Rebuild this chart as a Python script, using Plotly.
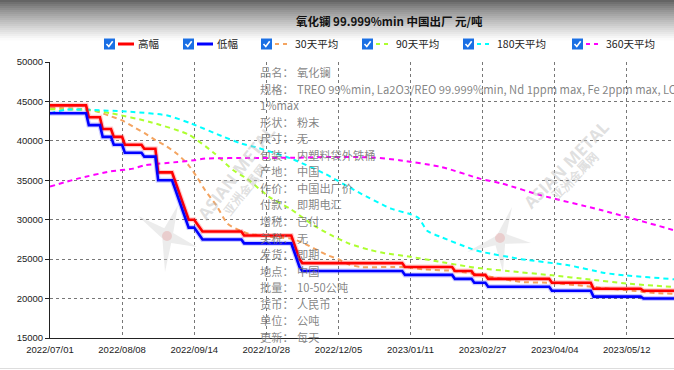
import plotly.graph_objects as go

# ---------------- data ----------------
N_DAYS = 229
tick_idx = [0, 26, 52, 78, 104, 130, 156, 182, 208]
tick_labels = ["2022/07/01", "2022/08/08", "2022/09/14", "2022/10/28", "2022/12/05",
               "2023/01/11", "2023/02/27", "2023/04/04", "2023/05/12"]
y_ticks = [15000, 20000, 25000, 30000, 35000, 40000, 45000, 50000]

# step data: trading-day index where a new price starts, and the price
hi_start = [0, 14, 19, 23, 27, 34, 39, 45, 46, 47, 48, 49, 50, 53, 54, 55, 70, 88, 89, 90, 91,
            128, 146, 153, 158, 181, 196, 214]
hi_val = [44500, 43000, 41500, 40500, 39500, 39000, 36000, 35000, 34000, 33000, 32000, 31000, 30000,
          29500, 29000, 28500, 28000, 27000, 26000, 25000, 24500,
          24000, 23500, 23000, 22500, 22000, 21250, 21000]
lo_start = [0, 14, 19, 23, 27, 34, 39, 45, 46, 47, 48, 49, 50, 53, 54, 55, 70, 88, 89, 90, 91,
            128, 146, 153, 158, 181, 196, 214]
lo_val = [43500, 42000, 40500, 39500, 38500, 38000, 35000, 34000, 33000, 32000, 31000, 30000, 29000,
          28500, 28000, 27500, 27000, 26000, 25000, 24000, 23500,
          23000, 22500, 22000, 21500, 21000, 20250, 20000]

ma30_idx = [0, 13, 18, 22, 26, 30, 34, 38, 42, 46, 50, 53, 56, 60, 64, 68, 72, 76, 80, 87, 91, 95,
            100, 104, 108, 112, 128, 135, 146, 150, 155, 160, 170, 180, 190, 200, 210, 218, 228]
ma30_val = [44200, 44000, 43600, 43100, 42600, 41800, 41000, 40100, 39300, 38300, 36900, 35400,
            33700, 31800, 29500, 28700, 28200, 28000, 27800, 27600, 27100, 26400,
            25500, 25000, 24300, 24000, 24000, 23700, 23500, 23300, 23000, 22700, 22100, 22000,
            21700, 21300, 21000, 20700, 20600]

ma90_idx = [0, 14, 22, 36, 50, 59, 66, 71, 79, 87, 95, 101, 108, 115, 120, 130, 140, 150, 156,
            165, 181, 195, 208, 228]
ma90_val = [44000, 43900, 43500, 42400, 40800, 38500, 36300, 35200, 32900, 31300, 29300, 28100,
            26950, 26200, 25800, 25300, 24700, 24100, 23800, 23500, 22950, 22400, 21900, 21400]

ma180_idx = [0, 6, 30, 42, 51, 62, 69, 74, 87, 99, 111, 123, 130, 133, 136, 141, 152, 156, 170,
             187, 200, 207, 225, 228]
ma180_val = [43460, 43960, 43660, 43240, 42190, 40600, 39650, 39220, 37750, 35850, 33520, 31400,
             30700, 30200, 28600, 27800, 26300, 25900, 25000, 24220, 23250, 22950, 22450, 22350]

ma360_idx = [0, 10, 22, 30, 34, 46, 52, 56, 72, 87, 100, 116, 126, 141, 155, 163, 177, 199, 225, 228]
ma360_val = [34200, 35210, 36140, 36480, 36900, 37320, 37540, 37750, 37830, 37850, 37950, 37900,
             37540, 36700, 35210, 34580, 33100, 31200, 28660, 28300]

series_names = ["高幅", "低幅", "30天平均", "90天平均", "180天平均", "360天平均"]
series_colors = ["#ff0000", "#0000ff", "#f4a460", "#adff2f", "#00ffff", "#ff00ff"]

title_text = "氧化镧 99.999%min 中国出厂 元/吨"
info_labels = ["品名：", "规格：", "", "形状：", "尺寸：", "包装：", "产地：", "作价：", "付款：", "增税：",
               "关税：", "发货：", "地点：", "批量：", "货币：", "单位：", "更新："]
info_values = ["氧化镧", "TREO 99%min, La2O3/REO 99.999%min, Nd 1ppm max, Fe 2ppm max, LOI",
               "1%max", "粉末", "无", "内塑料袋外铁桶", "中国", "中国出厂价", "即期电汇", "已付",
               "无", "即期", "中国", "10-50公吨", "人民币", "公吨", "每天"]


def expand_steps(starts, vals, n):
    out = []
    k = 0
    for i in range(n):
        while k + 1 < len(starts) and starts[k + 1] <= i:
            k += 1
        out.append(vals[k])
    return out


days = list(range(N_DAYS))
hi = expand_steps(hi_start, hi_val, N_DAYS)
lo = expand_steps(lo_start, lo_val, N_DAYS)

# ---------------- geometry helpers (layout only) ----------------
W, H = 674, 370
L, R, T, B = 50, 0, 62, 32
PW, PH = W - L - R, H - T - B


def px(x):
    return (x - L) / PW


def py(y):
    return (H - B - y) / PH


fig = go.Figure()

DASH = "5px,4px"
avg_sets = [(ma30_idx, ma30_val, 2, DASH), (ma90_idx, ma90_val, 3, DASH),
            (ma180_idx, ma180_val, 4, DASH), (ma360_idx, ma360_val, 5, DASH)]
for xs, ys, ci, dash in avg_sets:
    fig.add_trace(go.Scatter(x=xs, y=ys, mode="lines", line=dict(color=series_colors[ci], width=2,
                  dash=dash, shape="spline", smoothing=0.6), showlegend=False, hoverinfo="skip"))

for ys, ci, halo in [(hi, 0, "rgba(255,0,0,0.2)"), (lo, 1, "rgba(0,0,255,0.2)")]:
    fig.add_trace(go.Scatter(x=days, y=ys, mode="lines", line=dict(color=halo, width=5),
                             showlegend=False, hoverinfo="skip"))
    fig.add_trace(go.Scatter(x=days, y=ys, mode="lines", line=dict(color=series_colors[ci], width=2.6),
                             name=series_names[ci], showlegend=False))

shapes = []
annos = []

# top gradient band
n_band = 20
top_h = 40
for i in range(n_band):
    y0 = i * top_h / n_band
    y1 = (i + 1) * top_h / n_band + 0.5
    t = (i + 0.5) / n_band
    g = int(92 + (255 - 92) * (t ** 0.8))
    shapes.append(dict(type="rect", xref="paper", yref="paper", x0=px(0), x1=px(W),
                       y0=py(y1), y1=py(y0), line=dict(width=0), fillcolor=f"rgb({g},{g},{g})",
                       layer="below"))

# title
annos.append(dict(text="<b>" + title_text + "</b>", xref="paper", yref="paper", x=px(390), y=py(21),
                  xanchor="center", yanchor="middle", showarrow=False,
                  font=dict(family="Noto Sans CJK SC", size=11.5, color="#111")))

# custom legend
leg_x = [104, 183, 261, 362, 463, 572]
leg_y = 44
for i, name in enumerate(series_names):
    cx = leg_x[i]
    shapes.append(dict(type="rect", xref="paper", yref="paper", x0=px(cx), x1=px(cx + 11),
                       y0=py(leg_y + 5.5), y1=py(leg_y - 5.5), line=dict(width=0),
                       fillcolor="#1a6fe4"))
    shapes.append(dict(type="path", xref="paper", yref="paper",
                       path=f"M {px(cx+2.5)} {py(leg_y)} L {px(cx+4.8)} {py(leg_y+2.5)} L {px(cx+8.7)} {py(leg_y-2.8)}",
                       line=dict(color="white", width=1.6)))
    lx0 = cx + 14
    if i < 2:
        shapes.append(dict(type="line", xref="paper", yref="paper", x0=px(lx0), x1=px(lx0 + 16),
                           y0=py(leg_y), y1=py(leg_y), line=dict(color=series_colors[i], width=3)))
    else:
        shapes.append(dict(type="line", xref="paper", yref="paper", x0=px(lx0), x1=px(lx0 + 16),
                           y0=py(leg_y), y1=py(leg_y), line=dict(color=series_colors[i], width=2,
                                                                   dash="4px,4px")))
    annos.append(dict(text=name, xref="paper", yref="paper", x=px(lx0 + 18), y=py(leg_y),
                      xanchor="left", yanchor="middle", showarrow=False,
                      font=dict(family="Noto Sans CJK SC", size=10.5, color="#222")))

# watermarks (stars + text)
def star(tips, inner):
    pts = []
    for (tx, ty), (ix, iy) in zip(tips, inner):
        pts.append((tx, ty))
        pts.append((ix, iy))
    return "M " + " L ".join(f"{px(a)} {py(b)}" for a, b in pts) + " Z"


for (cx, cy, tips) in [(167, 236, [(178, 205), (197, 247), (165, 272), (138, 216)]),
                       (500, 238, [(512, 207), (531, 243), (503, 272), (467, 252)])]:
    inner = []
    for k in range(4):
        a = tips[k]
        b = tips[(k + 1) % 4]
        mx, my = (a[0] + b[0]) / 2, (a[1] + b[1]) / 2
        inner.append((cx + (mx - cx) * 0.3, cy + (my - cy) * 0.3))
    shapes.append(dict(type="path", xref="paper", yref="paper", path=star(tips, inner),
                       fillcolor="rgba(200,200,200,0.35)", line=dict(width=0), layer="above"))
    shapes.append(dict(type="circle", xref="paper", yref="paper", x0=px(cx - 5), x1=px(cx + 5),
                       y0=py(cy + 5), y1=py(cy - 5), fillcolor="rgba(230,150,150,0.35)",
                       line=dict(width=0)))

for (x, y, ang, size, txt) in [(236, 172, -52, 17, "ASIAN METAL"), (244, 190, -52, 12, "亚洲金属网"),
                               (566, 164, -46, 17, "ASIAN METAL"), (574, 176, -46, 12, "亚洲金属网")]:
    annos.append(dict(text="<b>" + txt + "</b>", xref="paper", yref="paper", x=px(x), y=py(y),
                      xanchor="center", yanchor="middle", showarrow=False, textangle=ang,
                      font=dict(family="Open Sans", size=size, color="rgba(185,185,185,0.45)")))

# info block
y_first, dy = 72, 16.56
for i, (lab, val) in enumerate(zip(info_labels, info_values)):
    yy = y_first + i * dy
    if lab:
        annos.append(dict(text=lab, xref="paper", yref="paper", x=px(258), y=py(yy), xanchor="left",
                          yanchor="middle", showarrow=False,
                          font=dict(family="Noto Sans CJK SC", size=11.2, color="rgba(110,110,110,0.85)")))
        vx = 295
    else:
        vx = 258
    annos.append(dict(text=val, xref="paper", yref="paper", x=px(vx), y=py(yy), xanchor="left",
                      yanchor="middle", showarrow=False,
                      font=dict(family="Noto Sans CJK SC", size=11.2, color="rgba(110,110,110,0.85)")))

# bottom border line
shapes.append(dict(type="line", xref="paper", yref="paper", x0=px(0), x1=px(W), y0=py(368.5),
                   y1=py(368.5), line=dict(color="#dddddd", width=1)))

fig.update_layout(
    width=W, height=H, margin=dict(l=L, r=R, t=T, b=B, pad=0),
    paper_bgcolor="white", plot_bgcolor="white",
    shapes=shapes, annotations=annos, showlegend=False,
    xaxis=dict(range=[0, PW / 72.1 * 26], tickvals=tick_idx, ticktext=tick_labels,
               showgrid=True, gridcolor="#777", griddash="dot", gridwidth=1,
               showline=True, linecolor="#222", linewidth=1, ticks="outside", ticklen=3,
               tickcolor="rgba(0,0,0,0)", zeroline=False,
               tickfont=dict(family="Liberation Sans", size=9.5, color="#222")),
    yaxis=dict(range=[15000, 50000], tickvals=y_ticks, ticktext=[str(v) for v in y_ticks],
               showgrid=True, gridcolor="#777", griddash="dot", gridwidth=1,
               showline=True, linecolor="#222", linewidth=1, ticks="outside", ticklen=4,
               tickcolor="#222", zeroline=False,
               tickfont=dict(family="Liberation Sans", size=9.5, color="#222")),
)

fig.write_html("out.html", config={"displayModeBar": False},
               post_script="document.body.style.margin='0';document.body.style.padding='0';")
